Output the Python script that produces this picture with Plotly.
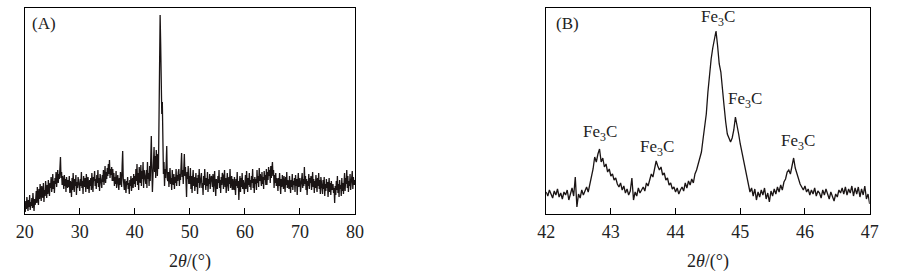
import plotly.graph_objects as go

# ---------------- data ----------------
# Panel A: 2theta from 20 to 80, step 0.1 (intensity in arbitrary units)
a_start, a_step = 20.0, 0.1
a_intensity = [
    8, 2, 13, 5, 17, 9, 3, 14, 7, 19, 4, 12, 8, 16, 6, 21, 11, 3, 15, 9,
    14, 23, 11, 27, 17, 9, 25, 15, 30, 19, 13, 28, 21, 16, 31, 12, 24, 18, 33, 22,
    16, 29, 20, 34, 23, 18, 31, 26, 37, 22, 28, 40, 25, 33, 21, 36, 30, 42, 27, 38,
    44, 31, 40, 35, 48, 57, 36, 42, 29, 38, 33, 25, 39, 28, 35, 22, 37, 30, 26, 34,
    27, 38, 21, 33, 29, 17, 36, 24, 41, 30, 22, 35, 28, 39, 19, 32, 26, 37, 31, 24,
    23, 35, 28, 42, 26, 33, 20, 38, 31, 27, 36, 22, 40, 29, 25, 37, 32, 21, 34, 28,
    36, 24, 41, 30, 22, 37, 33, 43, 28, 35, 25, 39, 31, 44, 27, 36, 23, 40, 33, 29,
    26, 39, 32, 44, 29, 37, 48, 31, 42, 35, 46, 38, 50, 40, 54, 36, 45, 39, 47, 33,
    45, 33, 41, 28, 37, 30, 43, 26, 35, 39, 31, 24, 36, 29, 42, 33, 27, 48, 63, 36,
    30, 24, 35, 27, 21, 33, 29, 37, 25, 31, 20, 34, 28, 38, 23, 32, 36, 26, 40, 30,
    38, 27, 45, 33, 50, 29, 41, 24, 47, 36, 31, 49, 28, 43, 35, 52, 26, 44, 37, 32,
    30, 44, 26, 52, 35, 41, 28, 48, 33, 56, 78, 45, 22, 38, 50, 67, 42, 58, 36, 64,
    55, 38, 60, 45, 82, 140, 199, 170, 125, 100, 112, 70, 40, 52, 28, 45, 36, 50, 68, 35,
    33, 42, 27, 38, 46, 30, 36, 24, 44, 34, 29, 40, 25, 37, 31, 45, 28, 39, 33, 42,
    45, 28, 40, 34, 49, 61, 37, 44, 30, 52, 60, 38, 47, 33, 17, 42, 35, 48, 30, 38,
    30, 46, 25, 38, 21, 35, 44, 28, 37, 23, 33, 41, 27, 36, 20, 39, 31, 45, 26, 34,
    34, 41, 26, 31, 19, 38, 29, 45, 32, 24, 36, 28, 42, 22, 35, 30, 40, 25, 33, 38,
    36, 27, 40, 22, 33, 43, 28, 18, 35, 30, 25, 38, 31, 44, 26, 34, 21, 37, 29, 41,
    39, 25, 32, 44, 27, 36, 21, 34, 41, 29, 23, 37, 30, 45, 26, 33, 38, 24, 35, 28,
    24, 37, 31, 19, 35, 28, 42, 26, 33, 14, 30, 38, 22, 36, 27, 41, 25, 34, 29, 20,
    30, 39, 25, 43, 32, 22, 36, 29, 41, 27, 34, 24, 38, 31, 45, 26, 35, 21, 37, 30,
    35, 24, 44, 31, 38, 27, 46, 33, 40, 36, 28, 42, 30, 37, 25, 43, 34, 39, 29, 45,
    29, 42, 34, 47, 38, 44, 31, 48, 36, 45, 52, 38, 44, 26, 39, 31, 41, 28, 36, 33,
    23, 36, 28, 41, 33, 20, 35, 27, 39, 30, 25, 38, 32, 22, 37, 29, 42, 26, 34, 31,
    25, 38, 31, 21, 34, 27, 40, 24, 33, 29, 36, 22, 39, 28, 35, 19, 32, 41, 27, 34,
    36, 22, 33, 30, 41, 26, 35, 28, 47, 30, 38, 24, 35, 19, 33, 28, 40, 25, 36, 31,
    38, 24, 31, 42, 27, 35, 21, 33, 26, 39, 30, 22, 36, 28, 41, 25, 34, 20, 37, 29,
    29, 20, 34, 25, 37, 18, 30, 23, 35, 26, 32, 17, 28, 36, 22, 31, 19, 33, 24, 27,
    30, 21, 26, 11, 28, 19, 33, 24, 38, 21, 30, 17, 34, 25, 29, 18, 36, 23, 31, 20,
    27, 41, 23, 36, 30, 44, 26, 38, 22, 33, 28, 40, 24, 35, 31, 43, 25, 37, 29, 34,
    29,
]
a_theta = [round(a_start + i * a_step, 3) for i in range(len(a_intensity))]

# Panel B: 2theta from 42 to 47, step 0.025
b_start, b_step = 42.0, 0.025
b_intensity = [
    22, 18, 24, 20, 16, 23, 19, 25, 17, 21,
    15, 22, 19, 24, 14, 20, 26, 18, 37, 7,
    20, 16, 24, 19, 23, 27, 22, 30, 36, 45,
    57, 52, 60, 65, 52, 56, 47, 50, 42, 45,
    38, 40, 34, 36, 30, 27, 31, 24, 28, 21,
    25, 19, 23, 36, 14, 22, 18, 26, 21, 24,
    27, 23, 31, 28, 35, 40, 37, 46, 53, 48,
    44, 47, 39, 41, 34, 36, 29, 31, 25, 27,
    22, 26, 20, 24, 27, 23, 31, 26, 33, 29,
    35, 31, 40, 44, 51, 56, 62, 75, 90, 100,
    122, 142, 155, 166, 176, 183, 168, 150, 142, 120,
    108, 92, 80, 76, 72, 76, 84, 97, 90, 80,
    70, 62, 55, 48, 40, 30, 22, 26, 18, 25,
    14, 22, 17, 24, 19, 26, 15, 21, 12, 23,
    18, 25, 20, 27, 22, 29, 24, 32, 35, 42,
    44, 40, 48, 56, 46, 40, 36, 30, 27, 24,
    28, 22, 25, 19, 24, 20, 26, 18, 23, 21,
    16, 24, 19, 25, 20, 15, 22, 18, 13, 20,
    17, 24, 21, 26, 20, 27, 19, 25, 21, 28,
    18, 26, 20, 27, 17, 25, 19, 28, 15, 20,
    10,
]
b_theta = [round(b_start + i * b_step, 4) for i in range(len(b_intensity))]

a_ticks = [20, 30, 40, 50, 60, 70, 80]
b_ticks = [42, 43, 44, 45, 46, 47]

peak_label = "Fe<sub>3</sub>C"
peak_pos = [42.83, 43.72, 44.65, 45.07, 45.89]
peak_lab_y = [81, 66, 196, 114, 72]

panel_labels = ["(A)", "(B)"]
axis_title = "2<i>θ</i>/(°)"

# ---------------- figure ----------------
FONT = "Liberation Serif"
W, H = 911, 279
top, bottom = 8, 65
line_col = "#1a1414"

fig = go.Figure()
fig.add_trace(go.Scatter(x=a_theta, y=a_intensity, mode="lines",
                         line=dict(color=line_col, width=1.3), xaxis="x", yaxis="y",
                         showlegend=False, hoverinfo="skip"))
fig.add_trace(go.Scatter(x=b_theta, y=b_intensity, mode="lines",
                         line=dict(color=line_col, width=1.3), xaxis="x2", yaxis="y2",
                         showlegend=False, hoverinfo="skip"))

axis_common = dict(showline=True, linecolor="black", linewidth=1, mirror=True,
                   showgrid=False, zeroline=False)
xcommon = dict(axis_common, ticks="inside", ticklen=6, tickwidth=1, tickcolor="black",
               tickfont=dict(family=FONT, size=18, color="#222"),
               ticklabelstandoff=1)
ycommon = dict(axis_common, ticks="", showticklabels=False, range=[0, 206])

domA = [16 / W, 353 / W]
domB = [548 / W, 878 / W]

fig.update_layout(
    width=W, height=H,
    margin=dict(l=0, r=0, t=top, b=bottom),
    paper_bgcolor="white", plot_bgcolor="white",
    xaxis=dict(xcommon, domain=domA, range=[20, 80], tickvals=a_ticks),
    yaxis=dict(ycommon, anchor="x"),
    xaxis2=dict(xcommon, domain=domB, range=[42, 47], tickvals=b_ticks, anchor="y2"),
    yaxis2=dict(ycommon, anchor="x2"),
)

annotations = []
for xp, yp in zip(peak_pos, peak_lab_y):
    annotations.append(dict(x=xp, y=yp, xref="x2", yref="y2", text=peak_label,
                            showarrow=False, xanchor="center", yanchor="middle",
                            font=dict(family=FONT, size=17, color="#222")))
# panel labels
annotations.append(dict(x=21 / W, y=(214 - 24) / 206, xref="paper", yref="paper",
                        text=panel_labels[0], showarrow=False, xanchor="left", yanchor="middle",
                        font=dict(family=FONT, size=17, color="#222")))
annotations.append(dict(x=556 / W, y=(214 - 24) / 206, xref="paper", yref="paper",
                        text=panel_labels[1], showarrow=False, xanchor="left", yanchor="middle",
                        font=dict(family=FONT, size=17, color="#222")))
# axis titles
for dom in (domA, domB):
    annotations.append(dict(x=(dom[0] + dom[1]) / 2, y=(214 - 261) / 206,
                            xref="paper", yref="paper", text=axis_title, showarrow=False,
                            xanchor="center", yanchor="middle",
                            font=dict(family=FONT, size=18, color="#222")))
fig.update_layout(annotations=annotations)

fig.write_html("out.html")
